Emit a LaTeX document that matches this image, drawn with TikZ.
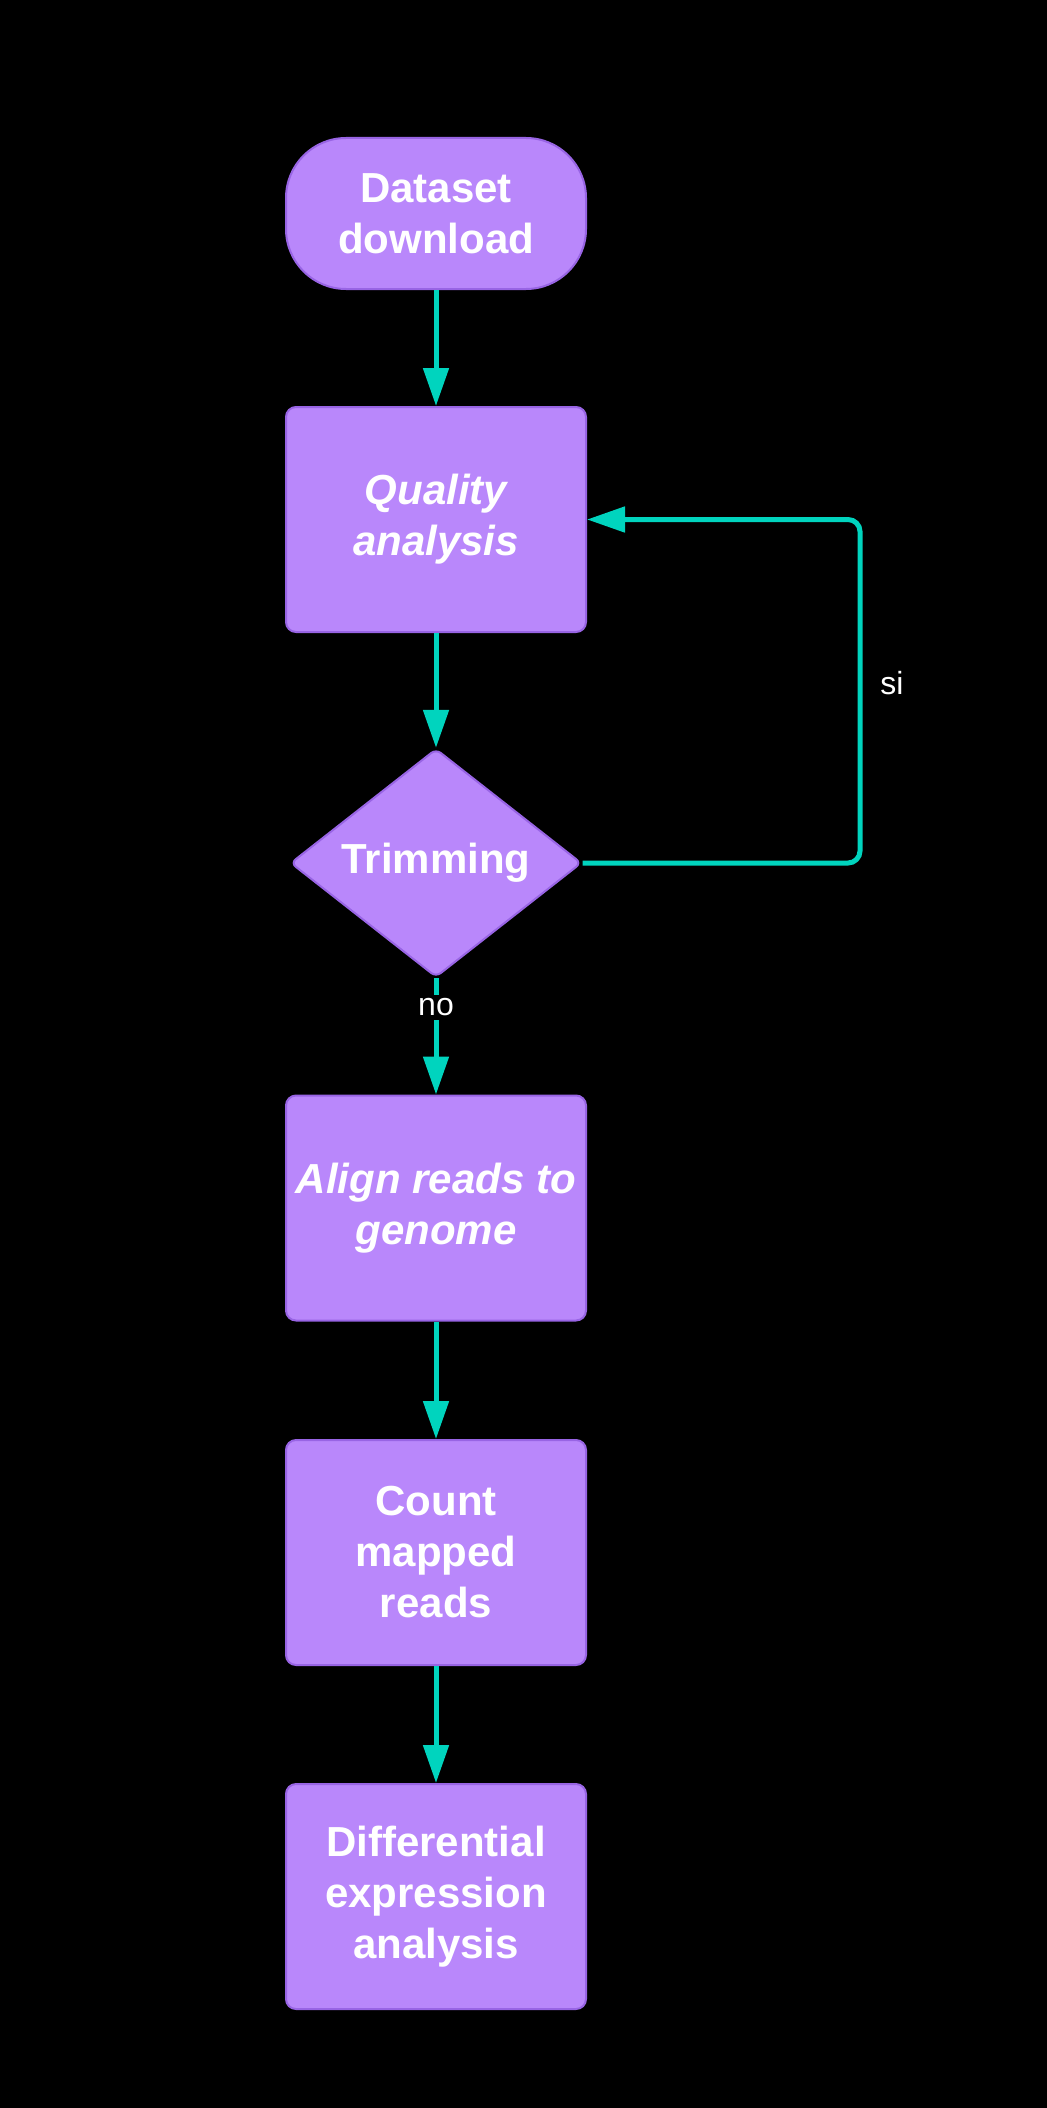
\documentclass[tikz,border=0pt]{standalone}
\usepackage{fontspec}
\setmainfont{Liberation Sans}
\usetikzlibrary{arrows.meta,shapes.geometric}
\definecolor{boxfill}{RGB}{185,135,251}
\definecolor{boxline}{RGB}{152,100,228}
\definecolor{flowline}{RGB}{0,212,190}
\tikzset{
	stepbox/.style={draw=boxline,fill=boxfill,line width=1pt,rounded corners=5pt,
		minimum width=150pt,minimum height=112.5pt,inner sep=0pt,align=center,
		text=white,font=\fontsize{21}{25.5}\selectfont\bfseries},
	startbox/.style={stepbox,rounded corners=30pt,minimum height=75.5pt},
	choicebox/.style={stepbox,diamond,rounded corners=3pt,minimum width=145.5pt,minimum height=110pt},
	flow/.style={draw=flowline,line width=2.5pt,-{Triangle[length=19pt,width=12.5pt]}},
	flowlabel/.style={text=white,font=\fontsize{16}{19}\selectfont,fill=black,inner sep=2pt}
}
\begin{document}
\begin{tikzpicture}
				\def\midx{218pt}
				\def\loopx{430pt}
				
				\useasboundingbox (0,0) rectangle (523pt,-1054pt);
				\fill[black] (-2pt,2pt) rectangle (525pt,-1056pt);
				
				\coordinate (cds) at (\midx,-106.75pt);
				\coordinate (cqa) at (\midx,-259.75pt);
				\coordinate (ctrim) at (\midx,-431.5pt);
				\coordinate (calign) at (\midx,-604pt);
				\coordinate (ccount) at (\midx,-776.25pt);
				\coordinate (cdiff) at (\midx,-948.25pt);
				\coordinate (loopc) at (\loopx,-431.5pt);
				
				\node[startbox] (ds) at (cds) {Dataset\\download};
				\node[stepbox] (qa) at (cqa) {\itshape Quality\\\itshape analysis};
				\node[choicebox] (trim) at (ctrim) {Trimming};
				\node[stepbox] (align) at (calign) {\itshape Align reads to\\\itshape genome};
				\node[stepbox] (count) at (ccount) {Count\\mapped\\reads};
				\node[stepbox] (diff) at (cdiff) {Differential\\expression\\analysis};
				
				\draw[flow] (ds) -- (qa);
				\draw[flow] (qa) -- (trim);
				\draw[flow] (trim) -- node[flowlabel,pos=.25] (no) {no} (align);
				\draw[flow] (align) -- (count);
				\draw[flow] (count) -- (diff);
				\draw[flow,rounded corners=6pt] (trim.east) -- (loopc) |- (qa.east);
				
				\node[flowlabel,anchor=west] (si) at ([xshift=8pt,yshift=90pt]loopc) {si};
			\end{tikzpicture}
\end{document}
